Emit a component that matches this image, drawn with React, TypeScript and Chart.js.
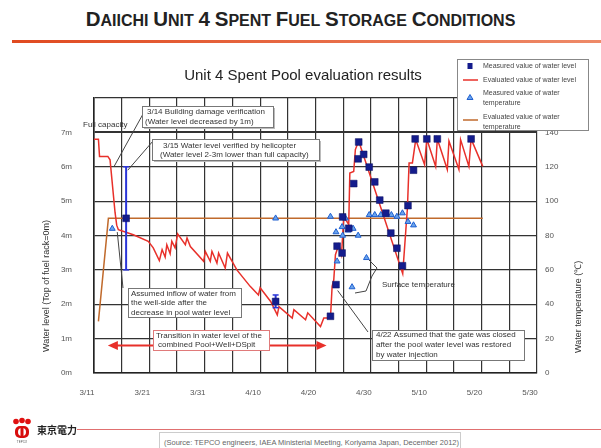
import React, { useEffect, useRef } from "react";
import { Chart, registerables } from "chart.js";
Chart.register(...registerables);

const FONT = "'Liberation Sans', Arial, Helvetica, sans-serif";

// x values are days since 3/11 (2011)
const xTickLabels = ["3/11", "3/21", "3/31", "4/10", "4/20", "4/30", "5/10", "5/20", "5/30"];

// Evaluated value of water level (m)
const evalLevelDays = [0, 0.8, 1.0, 2.5, 2.9, 3.8, 4.1, 4.4, 7.1, 9.8, 10.7, 11.8, 12.3, 12.85, 13.15, 13.75, 14.05, 14.65, 15.1, 16.5, 16.8, 17.4, 19.8, 20.1, 21.0, 21.3, 22.2, 22.5, 23.7, 24.1, 25.8, 28.2, 29.7, 30.0, 31.9, 33.1, 33.4, 35.8, 36.1, 38.2, 38.6, 40.9, 41.5, 42.7, 43.0, 43.3, 43.6, 44.2, 44.7, 45.1, 46.0, 46.2, 46.9, 47.2, 47.8, 55.75, 56.6, 56.9, 57.5, 58.1, 59.7, 60.1, 61.7, 62.0, 63.8, 64.1, 65.9, 66.2, 67.7, 68.1, 70.2];
const evalLevelM = [6.8, 6.8, 6.3, 6.3, 6.2, 4.67, 4.3, 4.17, 4.02, 3.83, 3.64, 3.27, 3.59, 3.37, 3.73, 3.47, 3.83, 3.64, 4.05, 3.73, 3.93, 3.68, 3.25, 3.54, 3.25, 3.54, 3.2, 3.49, 3.05, 3.49, 3.0, 2.52, 2.27, 2.48, 2.08, 1.69, 1.93, 1.6, 1.84, 1.55, 1.75, 1.35, 1.6, 1.6, 2.52, 2.71, 3.44, 3.73, 3.44, 4.55, 4.32, 5.82, 5.86, 6.5, 6.75, 2.89, 4.8, 6.11, 6.11, 6.79, 6.06, 6.81, 6.01, 6.81, 5.92, 6.75, 5.92, 6.79, 6.01, 6.81, 6.01];

// Measured value of water level (m)
const measLevelDays = [5.8, 32.8, 42.7, 43.7, 43.9, 44.8, 44.9, 46.0, 46.9, 47.7, 47.8, 48.7, 49.7, 50.7, 51.6, 52.7, 53.6, 54.7, 55.7, 56.7, 57.7, 58.0, 60.1, 62.0, 68.1];
const measLevelM = [4.5, 2.08, 1.65, 2.57, 3.69, 3.49, 4.54, 4.21, 5.51, 6.23, 6.72, 6.36, 5.99, 5.56, 5.03, 4.65, 4.07, 3.63, 3.12, 4.87, 5.9, 6.81, 6.81, 6.81, 6.81];

// Measured value of water temperature (°C)
const measTempDays = [3.3, 32.8, 42.7, 43.7, 43.9, 44.8, 44.9, 45.4, 45.9, 46.8, 47.7, 49.2, 49.7, 50.7, 51.8, 52.7, 53.7, 54.7, 55.7, 56.7, 57.7, 46.6];
const measTempC = [84, 90, 91, 82, 65, 85, 80, 90, 83, 84, 80, 67, 92, 92, 92, 92, 92, 91, 93, 88, 86, 50];

// Evaluated value of water temperature (°C)
const evalTempDays = [0.8, 2.6, 70.2];
const evalTempC = [30, 90, 90];

// Error bars on measured water level
const errBarDays = [5.8, 32.8];
const errBarLow = [3.0, 1.9];
const errBarHigh = [6.0, 2.27];

const headingWords = ["Daiichi", "Unit", "4", "Spent", "Fuel", "Storage", "Conditions"];

const zip = (xs: number[], ys: number[]) => xs.map((x, i) => ({ x, y: ys[i] }));

const RED = "#e8302a";
const NAVY = "#141c8c";
const TRI_FILL = "#6aa4ec";
const TRI_LINE = "#1f5fd0";
const ORANGE = "#c06a2c";
const ERR = "#2a35d8";
const GRID = "#333333";

function drawText(ctx: CanvasRenderingContext2D, s: string, x: number, y: number, size = 8, color = "#333", align: CanvasTextAlign = "left") {
  ctx.font = `${size}px ${FONT}`;
  ctx.fillStyle = color;
  ctx.textAlign = align;
  ctx.textBaseline = "middle";
  ctx.fillText(s, x, y);
}

function line(ctx: CanvasRenderingContext2D, pts: number[][], color = "#444", w = 1) {
  ctx.beginPath();
  ctx.strokeStyle = color;
  ctx.lineWidth = w;
  pts.forEach((p, i) => (i ? ctx.lineTo(p[0], p[1]) : ctx.moveTo(p[0], p[1])));
  ctx.stroke();
}

function tbox(ctx: CanvasRenderingContext2D, x: number, y: number, w: number, h: number, stroke: string, lines: [string, number, number][], shadow = false) {
  if (shadow) {
    ctx.fillStyle = "#bbbbbb";
    ctx.fillRect(x + 2, y + 2, w, h);
  }
  ctx.fillStyle = "#ffffff";
  ctx.fillRect(x, y, w, h);
  ctx.strokeStyle = stroke;
  ctx.lineWidth = 1;
  ctx.strokeRect(x + 0.5, y + 0.5, w, h);
  lines.forEach(([s, lx, ly]) => drawText(ctx, s, lx, ly, 8, "#333"));
}

const annotationPlugin = {
  id: "annots",
  afterDraw(chart: any) {
    const { ctx, scales } = chart;
    const xs = scales.x;
    const ys = scales.y;
    const P = (d: number, m: number) => [xs.getPixelForValue(d), ys.getPixelForValue(m)];
    ctx.save();

    // chart title
    drawText(ctx, "Unit 4 Spent Pool evaluation results", 303, 76, 15, "#222", "center");

    // axis titles
    ctx.save();
    ctx.translate(47, 352);
    ctx.rotate(-Math.PI / 2);
    drawText(ctx, "Water level (Top of fuel rack=0m)", 0, 0, 9, "#333", "left");
    ctx.restore();
    ctx.save();
    ctx.translate(579, 353);
    ctx.rotate(-Math.PI / 2);
    drawText(ctx, "Water temperature (℃)", 0, 0, 9, "#333", "left");
    ctx.restore();

    // Full capacity
    drawText(ctx, "Full capacity", 83, 125, 8, "#333");

    // leader lines
    line(ctx, [[143, 114], P(3.6, 6.0)]);
    line(ctx, [[153, 141], P(6.1, 5.9)]);
    line(ctx, [[123, 288], P(4.2, 4.1)]);
    line(ctx, [[368, 332], P(44.0, 2.4)]);
    // surface temperature bracket
    line(ctx, [[355, 293], [366, 291], [372, 276], [377, 268], [369, 260]], "#444", 1);
    drawText(ctx, "Surface temperature", 382, 285, 8, "#333");

    // double arrow (Pool+Well+DSpit transition)
    const a0 = P(2.5, 0.8);
    const a1 = P(42, 0.8);
    line(ctx, [[a0[0] + 6, a0[1]], [a1[0] - 6, a1[1]]], RED, 2);
    ctx.fillStyle = RED;
    ctx.beginPath();
    ctx.moveTo(a0[0], a0[1]);
    ctx.lineTo(a0[0] + 10, a0[1] - 4.5);
    ctx.lineTo(a0[0] + 10, a0[1] + 4.5);
    ctx.closePath();
    ctx.fill();
    ctx.beginPath();
    ctx.moveTo(a1[0], a1[1]);
    ctx.lineTo(a1[0] - 10, a1[1] - 4.5);
    ctx.lineTo(a1[0] - 10, a1[1] + 4.5);
    ctx.closePath();
    ctx.fill();

    // boxes
    tbox(ctx, 142, 106, 131, 21, "#777", [
      ["3/14 Building damage verification", 147, 111.5],
      ["(Water level decreased by 1m)", 145, 122],
    ], true);
    tbox(ctx, 152, 139, 167, 21, "#777", [
      ["3/15 Water level verified by helicopter", 163, 145.5],
      ["(Water level 2-3m lower than full capacity)", 160, 155],
    ], true);
    tbox(ctx, 128, 288, 113, 29, "#777", [
      ["Assumed inflow of water from", 131, 293.5],
      ["the well-side after the", 131, 303],
      ["decrease in pool water level", 131, 312.5],
    ]);
    tbox(ctx, 153, 330, 116, 20, "#e07a7a", [
      ["Transition in water level of the", 156, 335.5],
      ["combined Pool+Well+DSpit", 158, 345],
    ]);
    tbox(ctx, 372, 330, 152, 30, "#777", [
      ["4/22 Assumed that the gate was closed", 376, 335],
      ["after the pool water level was restored", 376, 345],
      ["by water injection", 376, 355],
    ]);

    // legend
    ctx.fillStyle = "#fff";
    ctx.fillRect(457, 59, 131, 71);
    ctx.strokeStyle = "#888";
    ctx.lineWidth = 1;
    ctx.strokeRect(457.5, 59.5, 131, 71);
    ctx.fillStyle = NAVY;
    ctx.fillRect(467.5, 63, 5, 6);
    drawText(ctx, "Measured value of water level", 483, 66, 7, "#444");
    line(ctx, [[463, 80], [478, 80]], RED, 1.5);
    drawText(ctx, "Evaluated value of water level", 483, 80, 7, "#444");
    ctx.beginPath();
    ctx.moveTo(470, 94.5);
    ctx.lineTo(473, 99.5);
    ctx.lineTo(467, 99.5);
    ctx.closePath();
    ctx.fillStyle = TRI_FILL;
    ctx.fill();
    ctx.strokeStyle = TRI_LINE;
    ctx.lineWidth = 1;
    ctx.stroke();
    drawText(ctx, "Measured value of water", 483, 93, 7, "#444");
    drawText(ctx, "temperature", 483, 103, 7, "#444");
    line(ctx, [[463, 120], [478, 120]], ORANGE, 1.5);
    drawText(ctx, "Evaluated value of water", 483, 117, 7, "#444");
    drawText(ctx, "temperature", 483, 127, 7, "#444");

    ctx.restore();
  },
};

export default function App() {
  const ref = useRef<HTMLCanvasElement>(null);
  useEffect(() => {
    document.body.style.margin = "0";
    const tickFont = { family: FONT, size: 8 };
    const chart = new Chart(ref.current as HTMLCanvasElement, {
      type: "line",
      data: {
        datasets: [
          {
            label: "Measured value of water level",
            data: zip(measLevelDays, measLevelM),
            yAxisID: "y",
            showLine: false,
            pointStyle: "rect",
            pointRadius: 4.8,
            pointBackgroundColor: NAVY,
            pointBorderColor: "#0c1060",
            pointBorderWidth: 0.5,
            order: 0,
          },
          {
            label: "Measured value of water temperature",
            data: zip(measTempDays, measTempC),
            yAxisID: "y2",
            showLine: false,
            pointStyle: "triangle",
            pointRadius: 3.4,
            pointBackgroundColor: TRI_FILL,
            pointBorderColor: TRI_LINE,
            pointBorderWidth: 1,
            order: 1,
          },
          ...errBarDays.map((d, i) => ({
            label: "err" + i,
            data: [{ x: d, y: errBarLow[i] }, { x: d, y: errBarHigh[i] }],
            yAxisID: "y",
            borderColor: ERR,
            borderWidth: 2,
            pointStyle: "line",
            pointRadius: 3,
            pointBorderColor: ERR,
            pointBorderWidth: 1.5,
            order: 2,
          })),
          {
            label: "Evaluated value of water level",
            data: zip(evalLevelDays, evalLevelM),
            yAxisID: "y",
            borderColor: RED,
            borderWidth: 1.5,
            pointRadius: 0,
            tension: 0,
            order: 3,
          },
          {
            label: "Evaluated value of water temperature",
            data: zip(evalTempDays, evalTempC),
            yAxisID: "y2",
            borderColor: ORANGE,
            borderWidth: 1.5,
            pointRadius: 0,
            tension: 0,
            order: 4,
          },
        ] as any,
      },
      options: {
        responsive: false,
        animation: false,
        devicePixelRatio: 1,
        layout: { padding: { top: 98, left: 0, right: 0, bottom: 0 } },
        plugins: { legend: { display: false }, tooltip: { enabled: false }, title: { display: false } },
        scales: {
          x: {
            type: "linear",
            min: 0,
            max: 80,
            afterFit: (s: any) => { s.height = 75; },
            ticks: {
              stepSize: 5,
              autoSkip: false,
              maxRotation: 0,
              padding: 15,
              labelOffset: -7,
              font: tickFont,
              color: "#555",
              callback: (v: any) => (Number(v) % 10 === 0 ? xTickLabels[Number(v) / 10] : ""),
            },
            grid: { color: GRID, lineWidth: 1.2, drawTicks: false },
            border: { display: true, color: "#222", width: 1.6 },
          },
          y: {
            position: "left",
            min: 0,
            max: 8,
            afterFit: (s: any) => { s.width = 94; },
            ticks: {
              stepSize: 1,
              padding: 22,
              font: tickFont,
              color: "#555",
              callback: (v: any) => (Number(v) === 8 ? "" : v + "m"),
            },
            grid: {
              color: GRID,
              lineWidth: (c: any) => (c.tick && c.tick.value === 7 ? 2 : 1.2),
              drawTicks: false,
            },
            border: { display: true, color: "#222", width: 1.6 },
          },
          y2: {
            position: "right",
            min: 0,
            max: 160,
            afterFit: (s: any) => { s.width = 64; },
            ticks: {
              stepSize: 20,
              padding: 8,
              font: tickFont,
              color: "#555",
              callback: (v: any) => (Number(v) === 160 ? "" : String(v)),
            },
            grid: { display: false, drawTicks: false },
            border: { display: false },
          },
        },
      } as any,
      plugins: [annotationPlugin],
    });
    return () => chart.destroy();
  }, []);

  return (
    <div style={{ position: "relative", width: 601, height: 448, background: "#fff", overflow: "hidden", fontFamily: FONT }}>
      <div style={{ position: "absolute", left: 0, top: 7, width: 601, textAlign: "center", fontWeight: "bold", lineHeight: "24px", color: "#222", whiteSpace: "nowrap" }}>
        {headingWords.map((w, i) => (
          <span key={i}>
            <span style={{ fontSize: 20.5 }}>{w.charAt(0).toUpperCase()}</span>
            <span style={{ fontSize: 16 }}>{w.slice(1).toUpperCase()}</span>
            {i < headingWords.length - 1 ? <span style={{ fontSize: 17 }}> </span> : null}
          </span>
        ))}
      </div>
      <div style={{ position: "absolute", left: 12, top: 40, width: 589, height: 3, background: "linear-gradient(to right, #e04a20, #ee8a68)" }} />
      <canvas ref={ref} width={601} height={448} style={{ position: "absolute", left: 0, top: 0 }} />
      <svg style={{ position: "absolute", left: 11, top: 417 }} width={22} height={28} viewBox="0 0 22 28">
        <circle cx={5} cy={4.5} r={2.8} fill="#e01010" />
        <circle cx={11} cy={3.5} r={2.8} fill="#e01010" />
        <circle cx={17} cy={4.5} r={2.8} fill="#e01010" />
        <rect x={4} y={9} width={14} height={12} rx={5} fill="#d80e0e" />
        <ellipse cx={11} cy={15} rx={4} ry={4} fill="#fff" />
        <rect x={9.5} y={9} width={3} height={12} fill="#d80e0e" />
        <text x={11} y={26} fontSize={3} textAnchor="middle" fill="#555">TEPCO</text>
      </svg>
      <div style={{ position: "absolute", left: 37, top: 424, fontSize: 10, fontWeight: "bold", color: "#222", fontFamily: "'Noto Sans CJK JP', sans-serif", lineHeight: "12px" }}>東京電力</div>
      <div style={{ position: "absolute", left: 77, top: 429, width: 524, height: 1, background: "#e07070" }} />
      <div style={{ position: "absolute", left: 159, top: 432, width: 302, height: 20, border: "1px solid #ccc", background: "#fff", boxSizing: "border-box" }} />
      <div style={{ position: "absolute", left: 164, top: 438, fontSize: 7.5, color: "#666", lineHeight: "10px", whiteSpace: "nowrap" }}>
        (Source: TEPCO engineers, IAEA Ministerial Meeting, Koriyama Japan, December 2012)
      </div>
    </div>
  );
}
